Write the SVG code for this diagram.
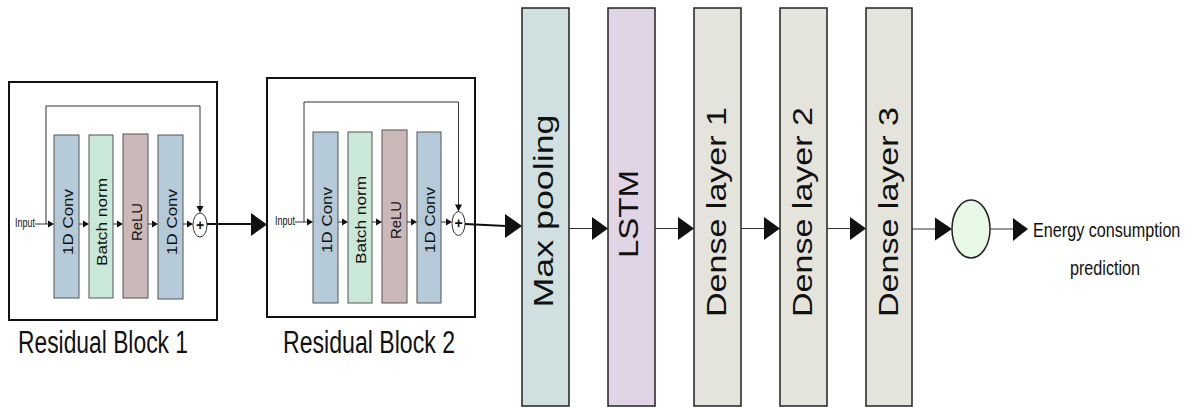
<svg xmlns="http://www.w3.org/2000/svg" width="1192" height="407" viewBox="0 0 1192 407">
<style>
text{font-family:"Liberation Sans",Arial,sans-serif;fill:#111}
.outer{fill:none;stroke:#111;stroke-width:2}
.inner{stroke:#555;stroke-width:1}
.conv{fill:#b5cad8}
.bn{fill:#c9e8d7}
.relu{fill:#cbb8b8}
.big{stroke:#222;stroke-width:1.5}
.pool{fill:#d0e0e0}
.lstm{fill:#e1d4e4}
.dense{fill:#e4e4dc}
.ln{stroke:#333;stroke-width:1;fill:none}
.lnb{stroke:#111;stroke-width:2;fill:none}
.ah{fill:#111}
.sum{fill:#fff;stroke:#333;stroke-width:1}
.small{font-size:15px}
.bigt{font-size:28px}
</style>
<rect width="1192" height="407" fill="#fff"/>

<g id="residual-block-1">
<rect class="outer" x="9" y="82" width="208" height="238"/>
<text x="15" y="227" font-size="12" textLength="20" lengthAdjust="spacingAndGlyphs">Input</text>
<g id="rb1-conv1"><rect class="inner conv" x="54" y="135" width="25" height="163"/><text class="small" transform="translate(66.5,222) rotate(-90)" y="6" text-anchor="middle" textLength="66" lengthAdjust="spacingAndGlyphs">1D Conv</text></g>
<g id="rb1-bn"><rect class="inner bn" x="89" y="135" width="24" height="163"/><text class="small" transform="translate(101,222) rotate(-90)" y="6" text-anchor="middle" textLength="88" lengthAdjust="spacingAndGlyphs">Batch norm</text></g>
<g id="rb1-relu"><rect class="inner relu" x="123" y="134" width="25" height="164"/><text class="small" transform="translate(135.5,222) rotate(-90)" y="6" text-anchor="middle" textLength="38" lengthAdjust="spacingAndGlyphs">ReLU</text></g>
<g id="rb1-conv2"><rect class="inner conv" x="158" y="135" width="25" height="164"/><text class="small" transform="translate(170.5,222) rotate(-90)" y="6" text-anchor="middle" textLength="66" lengthAdjust="spacingAndGlyphs">1D Conv</text></g>
<g id="rb1-sum"><ellipse class="sum" cx="200" cy="225" rx="7" ry="12"/><text x="200" y="229.5" font-size="14" font-weight="bold" text-anchor="middle">+</text></g>
<text x="18" y="353" font-size="31" textLength="170" lengthAdjust="spacingAndGlyphs">Residual Block 1</text>
</g>

<g id="residual-block-2">
<rect class="outer" x="267" y="78" width="208" height="239"/>
<text x="275" y="225" font-size="12" textLength="20" lengthAdjust="spacingAndGlyphs">Input</text>
<g id="rb2-conv1"><rect class="inner conv" x="313" y="132" width="25" height="171"/><text class="small" transform="translate(325.5,220) rotate(-90)" y="6" text-anchor="middle" textLength="66" lengthAdjust="spacingAndGlyphs">1D Conv</text></g>
<g id="rb2-bn"><rect class="inner bn" x="348" y="132" width="24" height="171"/><text class="small" transform="translate(360,220) rotate(-90)" y="6" text-anchor="middle" textLength="88" lengthAdjust="spacingAndGlyphs">Batch norm</text></g>
<g id="rb2-relu"><rect class="inner relu" x="382" y="130" width="25" height="173"/><text class="small" transform="translate(394.5,220) rotate(-90)" y="6" text-anchor="middle" textLength="38" lengthAdjust="spacingAndGlyphs">ReLU</text></g>
<g id="rb2-conv2"><rect class="inner conv" x="417" y="132" width="24" height="171"/><text class="small" transform="translate(429,220) rotate(-90)" y="6" text-anchor="middle" textLength="66" lengthAdjust="spacingAndGlyphs">1D Conv</text></g>
<g id="rb2-sum"><ellipse class="sum" cx="458.5" cy="223.5" rx="6.5" ry="12"/><text x="458.5" y="228" font-size="14" font-weight="bold" text-anchor="middle">+</text></g>
<text x="283" y="353" font-size="31" textLength="172" lengthAdjust="spacingAndGlyphs">Residual Block 2</text>
</g>

<g id="max-pooling"><rect class="big pool" x="522" y="8" width="47" height="398"/><text class="bigt" font-size="29" transform="translate(545.5,211) rotate(-90)" y="7.5" text-anchor="middle" textLength="193" lengthAdjust="spacingAndGlyphs">Max pooling</text></g>
<g id="lstm"><rect class="big lstm" x="608" y="8" width="47" height="398"/><text class="bigt" transform="translate(631.5,214) rotate(-90)" y="6.5" text-anchor="middle" textLength="88" lengthAdjust="spacingAndGlyphs">LSTM</text></g>
<g id="dense-1"><rect class="big dense" x="694" y="8" width="47" height="398"/><text class="bigt" transform="translate(717.5,212) rotate(-90)" y="8.5" text-anchor="middle" textLength="210" lengthAdjust="spacingAndGlyphs">Dense layer 1</text></g>
<g id="dense-2"><rect class="big dense" x="780" y="8" width="47" height="398"/><text class="bigt" transform="translate(803.5,212) rotate(-90)" y="8.5" text-anchor="middle" textLength="210" lengthAdjust="spacingAndGlyphs">Dense layer 2</text></g>
<g id="dense-3"><rect class="big dense" x="866" y="8" width="46" height="398"/><text class="bigt" transform="translate(889,212) rotate(-90)" y="8.5" text-anchor="middle" textLength="210" lengthAdjust="spacingAndGlyphs">Dense layer 3</text></g>
<g id="output-node"><ellipse cx="971" cy="229" rx="19" ry="29" fill="#e8f8e6" stroke="#222" stroke-width="1.5"/></g>
<g id="output-label">
<text transform="translate(1033,237) scale(0.77,1)" font-size="21">Energy consumption</text>
<text transform="translate(1070,275) scale(0.77,1)" font-size="21">prediction</text>
</g>

<g id="connectors">
<path class="ln" d="M35 224H48"/><polygon class="ah" points="48,220.5 54,224 48,227.5"/>
<path class="ln" d="M46 224V106H200V207"/><polygon class="ah" points="196.5,206 203.5,206 200,213"/>
<path class="ln" d="M79 224H83"/><polygon class="ah" points="83,220.5 89,224 83,227.5"/>
<path class="ln" d="M113 224H117"/><polygon class="ah" points="117,220.5 123,224 117,227.5"/>
<path class="ln" d="M148 224H152"/><polygon class="ah" points="152,220.5 158,224 152,227.5"/>
<path class="ln" d="M183 224H187"/><polygon class="ah" points="187,220.5 193,224 187,227.5"/>
<path class="lnb" d="M207 224H252"/><polygon class="ah" points="251,213 267,224.5 251,236"/>
<path class="ln" d="M295 222H307"/><polygon class="ah" points="307,218.5 313,222 307,225.5"/>
<path class="ln" d="M304 222V102H458.5V205"/><polygon class="ah" points="455,204.5 462,204.5 458.5,211.5"/>
<path class="ln" d="M338 222H342"/><polygon class="ah" points="342,218.5 348,222 342,225.5"/>
<path class="ln" d="M372 222H376"/><polygon class="ah" points="376,218.5 382,222 376,225.5"/>
<path class="ln" d="M407 222H411"/><polygon class="ah" points="411,218.5 417,222 411,225.5"/>
<path class="ln" d="M441 222H446"/><polygon class="ah" points="446,218.5 452,222 446,225.5"/>
<path class="lnb" d="M465 224L506 226"/><polygon class="ah" points="505,214 522,226 505,238"/>
<path class="ln" d="M569 228.5H593" stroke-width="1.5"/><polygon class="ah" points="592,217 608,228.5 592,240"/>
<path class="ln" d="M655 228.5H679" stroke-width="1.5"/><polygon class="ah" points="678,217 694,228.5 678,240"/>
<path class="ln" d="M741 228.5H765" stroke-width="1.5"/><polygon class="ah" points="764,217 780,228.5 764,240"/>
<path class="ln" d="M827 228.5H851" stroke-width="1.5"/><polygon class="ah" points="850,217 866,228.5 850,240"/>
<path class="ln" d="M912 229H936" stroke-width="1.5"/><polygon class="ah" points="935,217.5 952,229 935,240.5"/>
<path class="ln" d="M990 229H1014" stroke-width="1.5"/><polygon class="ah" points="1013,218 1028,229 1013,241"/>
</g>
</svg>
